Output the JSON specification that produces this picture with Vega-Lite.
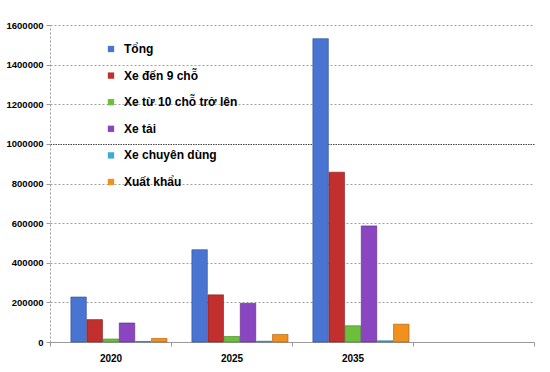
{
  "$schema": "https://vega.github.io/schema/vega-lite/v6.json",
  "width": 484,
  "height": 317,
  "autosize": {"type": "none"},
  "padding": {"left": 50, "top": 25, "right": 16, "bottom": 30},
  "background": "white",
  "config": {"view": {"stroke": null}, "font": "Liberation Sans"},
  "data": {"values": [
    {"year": "2020", "series": "Tổng", "value": 227000},
    {"year": "2020", "series": "Xe đến 9 chỗ", "value": 113000},
    {"year": "2020", "series": "Xe từ 10 chỗ trở lên", "value": 15000},
    {"year": "2020", "series": "Xe tải", "value": 96000},
    {"year": "2020", "series": "Xe chuyên dùng", "value": 3000},
    {"year": "2020", "series": "Xuất khẩu", "value": 18000},
    {"year": "2025", "series": "Tổng", "value": 466000},
    {"year": "2025", "series": "Xe đến 9 chỗ", "value": 238000},
    {"year": "2025", "series": "Xe từ 10 chỗ trở lên", "value": 28000},
    {"year": "2025", "series": "Xe tải", "value": 195000},
    {"year": "2025", "series": "Xe chuyên dùng", "value": 4000},
    {"year": "2025", "series": "Xuất khẩu", "value": 38000},
    {"year": "2035", "series": "Tổng", "value": 1531000},
    {"year": "2035", "series": "Xe đến 9 chỗ", "value": 857000},
    {"year": "2035", "series": "Xe từ 10 chỗ trở lên", "value": 82000},
    {"year": "2035", "series": "Xe tải", "value": 586000},
    {"year": "2035", "series": "Xe chuyên dùng", "value": 6000},
    {"year": "2035", "series": "Xuất khẩu", "value": 90000}
  ]},
  "mark": {"type": "bar", "strokeWidth": 0.6},
  "encoding": {
    "x": {
      "field": "year", "type": "nominal",
      "scale": {"domain": ["2020", "2025", "2035", "x"], "paddingInner": 0, "paddingOuter": 0},
      "axis": {
        "title": null, "labelAngle": 0, "tickBand": "extent",
        "labelExpr": "datum.value == 'x' ? '' : datum.label",
        "labelFontWeight": "bold", "labelFontSize": 10, "labelColor": "#000",
        "labelPadding": 7, "domainColor": "#999", "tickColor": "#999", "tickSize": 4,
        "grid": false
      }
    },
    "xOffset": {
      "field": "series", "type": "nominal",
      "scale": {
        "domain": ["Tổng", "Xe đến 9 chỗ", "Xe từ 10 chỗ trở lên", "Xe tải", "Xe chuyên dùng", "Xuất khẩu"],
        "paddingInner": 0.04, "paddingOuter": 0.77, "align": 0.84
      }
    },
    "y": {
      "field": "value", "type": "quantitative",
      "scale": {"domain": [0, 1600000], "nice": false},
      "axis": {
        "title": null,
        "values": [0, 200000, 400000, 600000, 800000, 1000000, 1200000, 1400000, 1600000],
        "format": "d", "labelFontWeight": "bold", "labelFontSize": 9.5, "labelColor": "#000",
        "labelPadding": 3, "tickSize": 4, "tickColor": "#999",
        "domainColor": "#999", "domainDash": [2, 2],
        "gridColor": {"condition": {"test": "datum.value == 1000000", "value": "#444"}, "value": "#a0a0a0"},
        "gridDash": {"condition": {"test": "datum.value == 1000000", "value": [1.5, 1]}, "value": [2, 2]},
        "gridWidth": 1
      }
    },
    "color": {
      "field": "series", "type": "nominal",
      "scale": {
        "domain": ["Tổng", "Xe đến 9 chỗ", "Xe từ 10 chỗ trở lên", "Xe tải", "Xe chuyên dùng", "Xuất khẩu"],
        "range": ["#4a74d2", "#c2302e", "#6cbf3a", "#8a45c0", "#3aaed0", "#f0901e"]
      },
      "legend": {
        "title": null, "orient": "none", "legendX": 55, "legendY": 18,
        "symbolType": "square", "symbolSize": 40, "symbolStrokeWidth": 0,
        "labelFontSize": 12, "labelFontWeight": "bold", "labelColor": "#000",
        "labelOffset": 7, "rowPadding": 14.6
      }
    },
    "stroke": {
      "field": "series", "type": "nominal",
      "scale": {
        "domain": ["Tổng", "Xe đến 9 chỗ", "Xe từ 10 chỗ trở lên", "Xe tải", "Xe chuyên dùng", "Xuất khẩu"],
        "range": ["#2c4c9a", "#7e1a18", "#3f8020", "#56287e", "#22708a", "#a85a0a"]
      },
      "legend": null
    }
  }
}
